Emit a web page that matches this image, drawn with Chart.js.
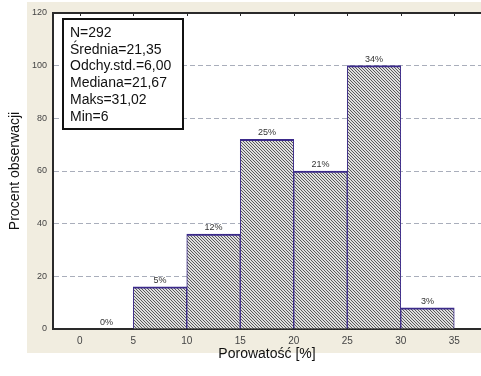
<!DOCTYPE html>
<html lang="pl">
<head>
<meta charset="UTF-8" />
<title>Porowatość – histogram</title>
<script src="https://cdn.jsdelivr.net/npm/chart.js@4/dist/chart.umd.min.js"></script>
<style>
  body { margin: 0; background: #fff; }
  canvas { display: block; }
</style>
</head>
<body>
<canvas id="histChart" width="481" height="376"></canvas>
<script>
// dane histogramu (liczebności w klasach 5%)
const binCenters = [2.5, 7.5, 12.5, 17.5, 22.5, 27.5, 32.5];
const counts = [0, 16, 36, 72, 60, 100, 8];
const percentLabels = ["0%", "5%", "12%", "25%", "21%", "34%", "3%"];
const xTicks = [0, 5, 10, 15, 20, 25, 30, 35];
const yTicks = [0, 20, 40, 60, 80, 100, 120];
const statsLines = ["N=292", "Średnia=21,35", "Odchy.std.=6,00", "Mediana=21,67", "Maks=31,02", "Min=6"];

const FONT = "'Liberation Sans', Arial, sans-serif";

// kreskowanie słupków
function makeHatch() {
  const c = document.createElement("canvas");
  c.width = 6; c.height = 6;
  const g = c.getContext("2d");
  g.fillStyle = "#dedede";
  g.fillRect(0, 0, 6, 6);
  g.fillStyle = "#5a5a5a";
  for (let y = 0; y < 6; y++) {
    for (let x = 0; x < 6; x++) {
      if ((x - y + 6) % 3 === 0) g.fillRect(x, y, 1, 1);
    }
  }
  return g.createPattern(c, "repeat");
}

const panelPlugin = {
  id: "panel",
  beforeDraw(chart) {
    const { ctx, chartArea: a } = chart;
    ctx.save();
    ctx.fillStyle = "#f1ede0";
    ctx.fillRect(a.left - 26, 2, chart.width - (a.left - 26), a.bottom + 24 - 2);
    ctx.fillStyle = "#fff";
    ctx.fillRect(a.left, a.top, a.right - a.left, a.bottom - a.top);
    ctx.restore();
  },
  afterDraw(chart) {
    const { ctx, chartArea: a } = chart;
    const xs = chart.scales.x;
    ctx.save();
    // górna krawędź i znaczniki
    ctx.strokeStyle = "#2a2a2a";
    ctx.lineWidth = 2;
    ctx.beginPath();
    ctx.moveTo(a.left, a.top);
    ctx.lineTo(a.right, a.top);
    ctx.stroke();
    ctx.lineWidth = 1;
    xTicks.forEach((v) => {
      const px = Math.round(xs.getPixelForValue(v)) + 0.5;
      ctx.beginPath();
      ctx.moveTo(px, a.top);
      ctx.lineTo(px, a.top + 3);
      ctx.stroke();
    });

    // etykiety procentowe nad słupkami
    const meta = chart.getDatasetMeta(0);
    ctx.fillStyle = "#333";
    ctx.font = "9px " + FONT;
    ctx.textAlign = "center";
    ctx.textBaseline = "bottom";
    meta.data.forEach((bar, i) => {
      ctx.fillText(percentLabels[i], bar.x, bar.y - 2);
    });

    // ramka ze statystykami
    const bx = a.left + 10, by = a.top + 6;
    ctx.fillStyle = "#fff";
    ctx.fillRect(bx, by, 120, 110);
    ctx.strokeStyle = "#111";
    ctx.lineWidth = 2;
    ctx.strokeRect(bx, by, 120, 110);
    ctx.fillStyle = "#111";
    ctx.font = "14px " + FONT;
    ctx.textAlign = "left";
    ctx.textBaseline = "alphabetic";
    statsLines.forEach((t, i) => {
      ctx.fillText(t, bx + 7, by + 18 + i * 16.7);
    });
    ctx.restore();
  }
};

new Chart(document.getElementById("histChart"), {
  type: "bar",
  data: {
    datasets: [
      {
        data: binCenters.map((x, i) => ({ x: x, y: counts[i] })),
        backgroundColor: makeHatch(),
        borderColor: "#3b2a8a",
        borderWidth: { top: 2, left: 1, right: 1, bottom: 0 },
        barPercentage: 1,
        categoryPercentage: 1,
      },
    ],
  },
  options: {
    responsive: false,
    animation: false,
    layout: { padding: { top: 13, right: 0, left: 0, bottom: 0 } },
    plugins: { legend: { display: false }, tooltip: { enabled: false } },
    scales: {
      x: {
        type: "linear",
        offset: false,
        min: -2.5,
        max: 37.5,
        afterBuildTicks: (s) => { s.ticks = xTicks.map((v) => ({ value: v })); },
        afterFit: (s) => { s.height = 47; },
        grid: { display: false, drawTicks: false, offset: false },
        border: { color: "#2a2a2a", width: 2 },
        ticks: { padding: 6, color: "#444", font: { size: 10, family: FONT }, autoSkip: false, maxRotation: 0 },
        title: { display: true, text: "Porowatość [%]", color: "#111", font: { size: 14, family: FONT }, padding: { top: 0, bottom: 13 } },
      },
      y: {
        min: 0,
        max: 120,
        afterBuildTicks: (s) => { s.ticks = yTicks.map((v) => ({ value: v })); },
        afterFit: (s) => { s.width = 53; },
        grid: {
          color: (c) => (c.tick && (c.tick.value === 0 || c.tick.value === 120)) ? "rgba(0,0,0,0)" : "#a9aebb",
          drawTicks: false,
          lineWidth: 1,
        },
        border: { color: "#2a2a2a", width: 2, dash: [5, 3] },
        ticks: { padding: 6, color: "#444", font: { size: 9, family: FONT } },
        title: { display: true, text: "Procent obserwacji", color: "#111", font: { size: 14, family: FONT }, padding: { top: 7, bottom: 0 } },
      },
    },
  },
  plugins: [panelPlugin],
});
</script>
</body>
</html>
